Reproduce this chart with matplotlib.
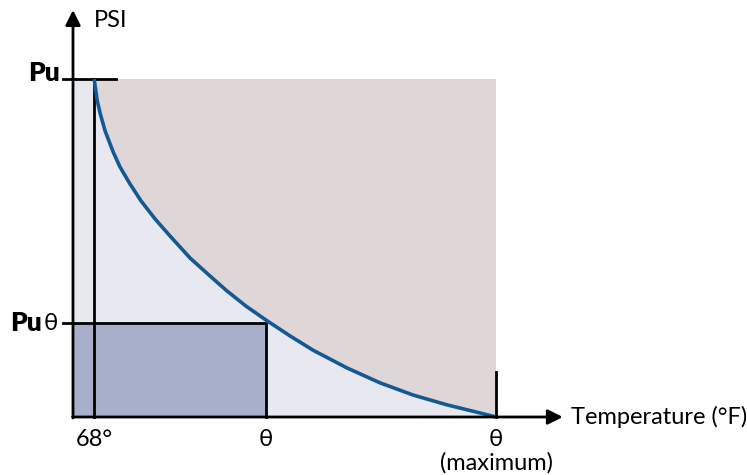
"""
Pressure vs temperature rating diagram (PSI against °F).
"""

import matplotlib
matplotlib.use("Agg")
import matplotlib.pyplot as plt
from matplotlib.patches import Rectangle

# Normalized units: x = temperature (0 = axis origin, 1 = maximum),
# y = pressure (1 = Pu)
T_68 = 0.050
T_THETA = 0.456
T_MAX = 1.0
P_U = 1.0
P_U_THETA = 0.278

curva_x = [0.050, 0.057, 0.064, 0.076, 0.095, 0.111, 0.135, 0.161, 0.194,
           0.229, 0.277, 0.324, 0.364, 0.409, 0.456, 0.513, 0.567, 0.648,
           0.726, 0.804, 0.884, 0.962, 1.0]
curva_y = [1.000, 0.938, 0.899, 0.846, 0.784, 0.740, 0.689, 0.639, 0.586,
           0.536, 0.470, 0.417, 0.373, 0.328, 0.287, 0.240, 0.198, 0.145,
           0.101, 0.065, 0.036, 0.012, 0.0]

COR_CLARA = "#e8e9f0"
COR_MARROM = "#dfd7d7"
COR_RETANGULO = "#a8afca"
COR_CURVA = "#135a95"
LW = 2.0

plt.rcParams["font.family"] = ["Lato", "DejaVu Sans"]

fig = plt.figure(figsize=(7.47, 4.75), dpi=100)
ax = fig.add_axes([0, 0, 1, 1])
ax.set_xlim(-73 / 423, 674 / 423)
ax.set_ylim(-58 / 338, 417 / 338)
ax.axis("off")

# regiões preenchidas
ax.add_patch(Rectangle((0, 0), T_MAX, P_U, facecolor=COR_CLARA, edgecolor="none", zorder=1))
ax.fill_between(curva_x, curva_y, P_U, facecolor=COR_MARROM, edgecolor="none", zorder=2)
ax.add_patch(Rectangle((0, 0), T_THETA, P_U_THETA, facecolor=COR_RETANGULO, edgecolor="none", zorder=3))

# linhas de referência
ax.plot([T_THETA, T_THETA, -0.024], [0, P_U_THETA, P_U_THETA], color="black", lw=LW, zorder=4,
        solid_joinstyle="miter")
ax.plot([T_68, T_68], [0, P_U], color="black", lw=LW, zorder=4)
ax.plot([-0.024, 0.102], [P_U, P_U], color="black", lw=LW, zorder=4)
ax.plot([T_MAX, T_MAX], [0, 0.133], color="black", lw=LW, zorder=4)

# curva
ax.plot(curva_x, curva_y, color=COR_CURVA, lw=2.6, zorder=5, solid_capstyle="butt",
        solid_joinstyle="round")

# eixos com setas
seta = dict(arrowstyle="-|>,head_length=0.9,head_width=0.45", lw=LW, color="black",
            shrinkA=0, shrinkB=0)
ax.annotate("", xy=(1.158, 0), xytext=(-0.001, 0), arrowprops=seta, zorder=6)
ax.annotate("", xy=(0, 1.204), xytext=(0, -0.003), arrowprops=seta, zorder=6)

# textos
fs = 17
ax.text(0.050, 1.172, "PSI", fontsize=fs, ha="left", va="center")
ax.text(1.177, 0, "Temperature (°F)", fontsize=fs, ha="left", va="center")
ax.text(-0.031, 1.018, "Pu", fontsize=19, fontweight="heavy", ha="right", va="center")
ax.text(-0.035, P_U_THETA, "θ", fontsize=fs, ha="right", va="center")
ax.text(-0.074, P_U_THETA, "Pu", fontsize=19, fontweight="heavy", ha="right", va="center")
ax.text(T_68, -0.068, "68°", fontsize=fs, ha="center", va="center")
ax.text(T_THETA, -0.068, "θ", fontsize=fs, ha="center", va="center")
ax.text(T_MAX, -0.068, "θ", fontsize=fs, ha="center", va="center")
ax.text(T_MAX, -0.136, "(maximum)", fontsize=fs, ha="center", va="center")

fig.savefig("out.png", dpi=100)
plt.close(fig)
